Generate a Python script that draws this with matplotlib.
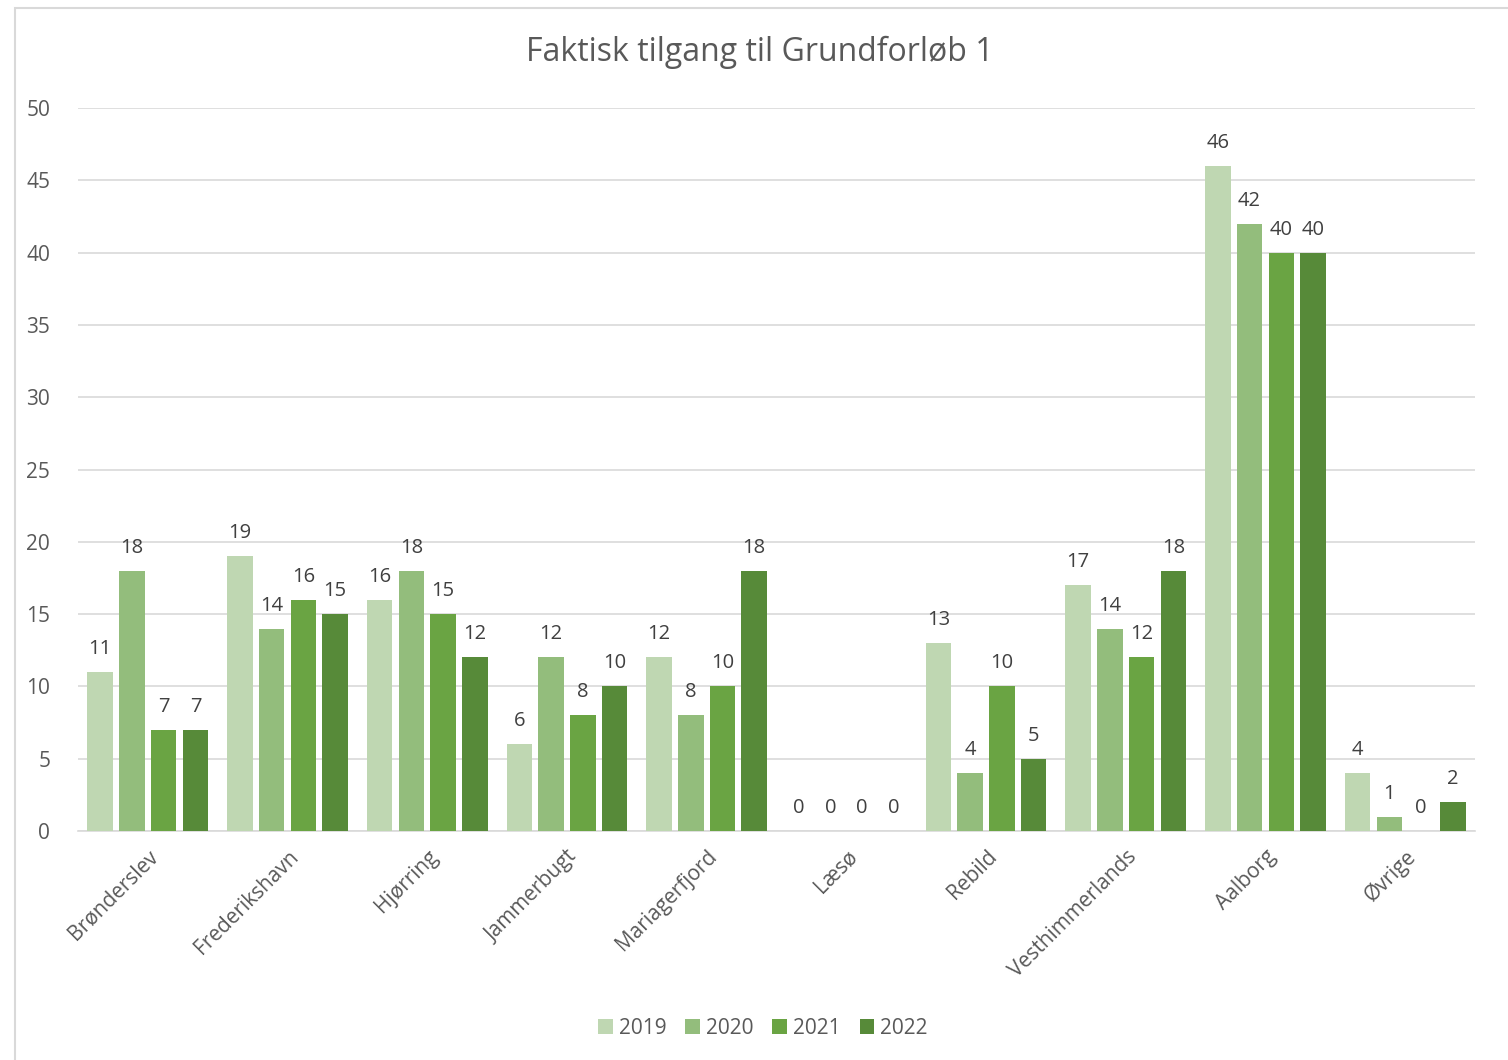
import numpy as np
import matplotlib
matplotlib.use('Agg')
from matplotlib import pyplot as plt
from matplotlib.patches import Rectangle

plt.rcParams['font.family'] = ['Open Sans', 'DejaVu Sans']

kommuner = ['Brønderslev', 'Frederikshavn', 'Hjørring', 'Jammerbugt', 'Mariagerfjord',
            'Læsø', 'Rebild', 'Vesthimmerlands', 'Aalborg', 'Øvrige']
years = ['2019', '2020', '2021', '2022']
v2019 = [11, 19, 16, 6, 12, 0, 13, 17, 46, 4]
v2020 = [18, 14, 18, 12, 8, 0, 4, 14, 42, 1]
v2021 = [7, 16, 15, 8, 10, 0, 10, 12, 40, 0]
v2022 = [7, 15, 12, 10, 18, 0, 5, 18, 40, 2]
colors = ['#bfd7b2', '#93bd7c', '#6aa443', '#578a39']

txt = '#595959'
fig = plt.figure(figsize=(15.08, 10.6), dpi=100)
fig.patches.append(Rectangle((15/1508, -0.01), 1.1, 1 - 8/1060 + 0.01, transform=fig.transFigure,
                             fill=False, edgecolor='#d9d9d9', lw=1.5))
ax = fig.add_axes([78/1508, 1 - 831/1060, 1397/1508, 723/1060])

x = np.arange(len(kommuner))
slot = 0.227
w = 0.183
for i, (vals, c) in enumerate(zip([v2019, v2020, v2021, v2022], colors)):
    pos = x + (i - 1.5) * slot
    ax.bar(pos, vals, w, color=c, label=years[i], zorder=3)
    for p, v in zip(pos, vals):
        ax.text(p, v + 0.9, str(v), ha='center', va='bottom', fontsize=14.5, color='#404040')

ax.set_xlim(-0.5, len(kommuner) - 0.5)
ax.set_ylim(0, 50)
ax.set_yticks(range(0, 51, 5))
ax.grid(axis='y', color='#d9d9d9', lw=1.2, zorder=0)
for s in ['top', 'right', 'left']:
    ax.spines[s].set_visible(False)
ax.spines['bottom'].set_color('#d9d9d9')
ax.spines['bottom'].set_linewidth(1.2)
ax.tick_params(axis='both', length=0, colors=txt, labelsize=15)
ax.tick_params(axis='y', pad=20)
ax.set_xticks(x)
ax.set_xticklabels(kommuner, rotation=45, ha='right', rotation_mode='anchor')
ax.tick_params(axis='x', pad=11)

fig.text(0.504, 1 - 52/1060, 'Faktisk tilgang til Grundforløb 1', ha='center', va='center',
         fontsize=23, color=txt)
fig.legend(loc='center', bbox_to_anchor=(0.506, 1 - 1028/1060), ncol=4, frameon=False,
           fontsize=15, labelcolor=txt, handlelength=0.7, handleheight=0.7,
           handletextpad=0.3, columnspacing=0.9)

plt.savefig('out.png', dpi=100)
